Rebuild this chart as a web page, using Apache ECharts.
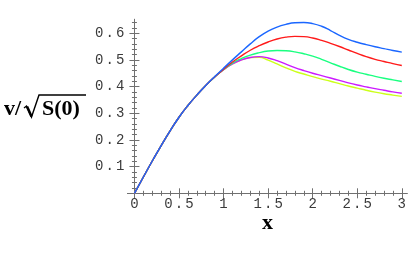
<!DOCTYPE html>
<html><head><meta charset="utf-8">
<script src="https://cdn.jsdelivr.net/npm/echarts@6/dist/echarts.min.js"></script>
<style>html,body{margin:0;padding:0;background:#fff}#c{width:409px;height:253px}</style>
</head><body><div id="c"></div>
<script>
const xValues = [0,0.1,0.2,0.3,0.4,0.5,0.6,0.7,0.8,0.9,1.0,1.1,1.2,1.3,1.4,1.5,1.6,1.7,1.8,1.9,2.0,2.1,2.2,2.3,2.4,2.5,2.6,2.7,2.8,2.9,3.0];
const blueValues    = [0,0.061,0.121,0.179,0.234,0.285,0.329,0.368,0.404,0.437,0.469,0.500,0.530,0.560,0.587,0.608,0.623,0.633,0.639,0.640,0.636,0.626,0.610,0.592,0.577,0.566,0.557,0.549,0.542,0.535,0.529];
const redValues     = [0,0.061,0.121,0.179,0.234,0.285,0.329,0.368,0.404,0.436,0.465,0.492,0.515,0.536,0.553,0.567,0.578,0.585,0.588,0.587,0.582,0.573,0.562,0.550,0.537,0.524,0.512,0.502,0.494,0.486,0.479];
const greenValues   = [0,0.061,0.121,0.179,0.234,0.285,0.329,0.368,0.404,0.436,0.464,0.488,0.505,0.518,0.527,0.533,0.535,0.534,0.530,0.523,0.514,0.502,0.489,0.476,0.464,0.454,0.446,0.438,0.431,0.425,0.419];
const magentaValues = [0,0.061,0.121,0.179,0.234,0.285,0.329,0.368,0.404,0.436,0.463,0.485,0.500,0.509,0.512,0.507,0.497,0.484,0.471,0.460,0.450,0.441,0.432,0.423,0.414,0.406,0.399,0.392,0.386,0.380,0.375];
const yellowValues  = [0,0.061,0.121,0.179,0.234,0.285,0.329,0.368,0.404,0.436,0.463,0.485,0.500,0.509,0.510,0.499,0.485,0.470,0.457,0.447,0.437,0.428,0.420,0.411,0.402,0.394,0.386,0.379,0.373,0.368,0.363];
const xTickLabels = [0,0.5,1,1.5,2,2.5,3];
const yTickLabels = [0.1,0.2,0.3,0.4,0.5,0.6];

const XMIN = -0.078, XMAX = 3.06, YMIN = 0, YMAX = 0.652;
const xMinor = []; for (let i = 0; i <= 30; i++) { if (i % 5) xMinor.push(+(i*0.1).toFixed(2)); }
const yMinor = []; for (let i = 1; i <= 32; i++) { if (i % 5) yMinor.push(+(i*0.02).toFixed(2)); }

const frameColor = '#707070';
function spaced(v){ return String(+(+v).toFixed(2)).split('').map(c => '{c|' + c + '}').join(''); }
const rich = { c: { width: 10.5, align: 'center', fontFamily: 'Liberation Mono', fontSize: 14, color: '#3a3a3a' } };

function ax(pos, major, minor, showLabel, isX) {
  const base = { type: 'value', min: isX ? XMIN : YMIN, max: isX ? XMAX : YMAX, position: pos, splitLine: { show: false } };
  return [
    Object.assign({}, base, {
      axisLine: { show: true, lineStyle: { color: frameColor, width: 1 } },
      axisTick: { show: true, inside: true, length: 5, customValues: major, lineStyle: { color: frameColor } },
      axisLabel: showLabel ? { show: true, customValues: major, formatter: spaced, rich: rich, margin: isX ? 4 : 2 } : { show: false }
    }),
    Object.assign({}, base, {
      axisLine: { show: false },
      axisTick: { show: true, inside: true, length: 2.5, customValues: minor, lineStyle: { color: frameColor } },
      axisLabel: { show: false }
    })
  ];
}

const chart = echarts.init(document.getElementById('c'), null, { renderer: 'canvas' });
function mk(name, vals, color) {
  return { name, type: 'line', xAxisIndex: 0, yAxisIndex: 0, smooth: true, symbol: 'none',
    lineStyle: { color, width: 1.4 }, data: xValues.map((x, i) => [x, vals[i]]) };
}
chart.setOption({
  animation: false,
  grid: { left: 127.5, right: 1.5, top: 19.3, bottom: 59.7, containLabel: false },
  xAxis: [...ax('bottom', xTickLabels, xMinor, true, true), ...ax('top', xTickLabels, xMinor, false, true)],
  yAxis: [...ax('left', [0].concat(yTickLabels), yMinor, false, false), ...ax('right', [0].concat(yTickLabels), yMinor, false, false),
    { type: 'value', min: YMIN, max: YMAX, position: 'left', axisLine: { show: false }, axisTick: { show: false }, splitLine: { show: false },
      axisLabel: { show: true, customValues: yTickLabels, formatter: spaced, rich: rich, margin: 2 } }],
  series: [
    mk('yellow', yellowValues, '#ccff1a'),
    mk('magenta', magentaValues, '#cc1aff'),
    mk('green', greenValues, '#1aff80'),
    mk('red', redValues, '#ff1a1a'),
    mk('blue', blueValues, '#1a66ff')
  ],
  graphic: [
    { type: 'text', left: 4, top: 98, style: { text: 'v/', font: 'bold 22px "Liberation Serif"', fill: '#000' } },
    { type: 'text', left: 42, top: 98, style: { text: 'S(0)', font: 'bold 22px "Liberation Serif"', fill: '#000' } },
    { type: 'polyline', shape: { points: [[24,108],[26.5,106],[31.5,117],[39,95],[86,95]] }, style: { stroke: '#000', lineWidth: 1.4, fill: null } },
    { type: 'line', shape: { x1: 27, y1: 106.5, x2: 31.5, y2: 116.5 }, style: { stroke: '#000', lineWidth: 2.6 } },
    { type: 'text', left: 262, top: 212, style: { text: 'x', font: 'bold 22px "Liberation Serif"', fill: '#000' } }
  ]
});
</script></body></html>
